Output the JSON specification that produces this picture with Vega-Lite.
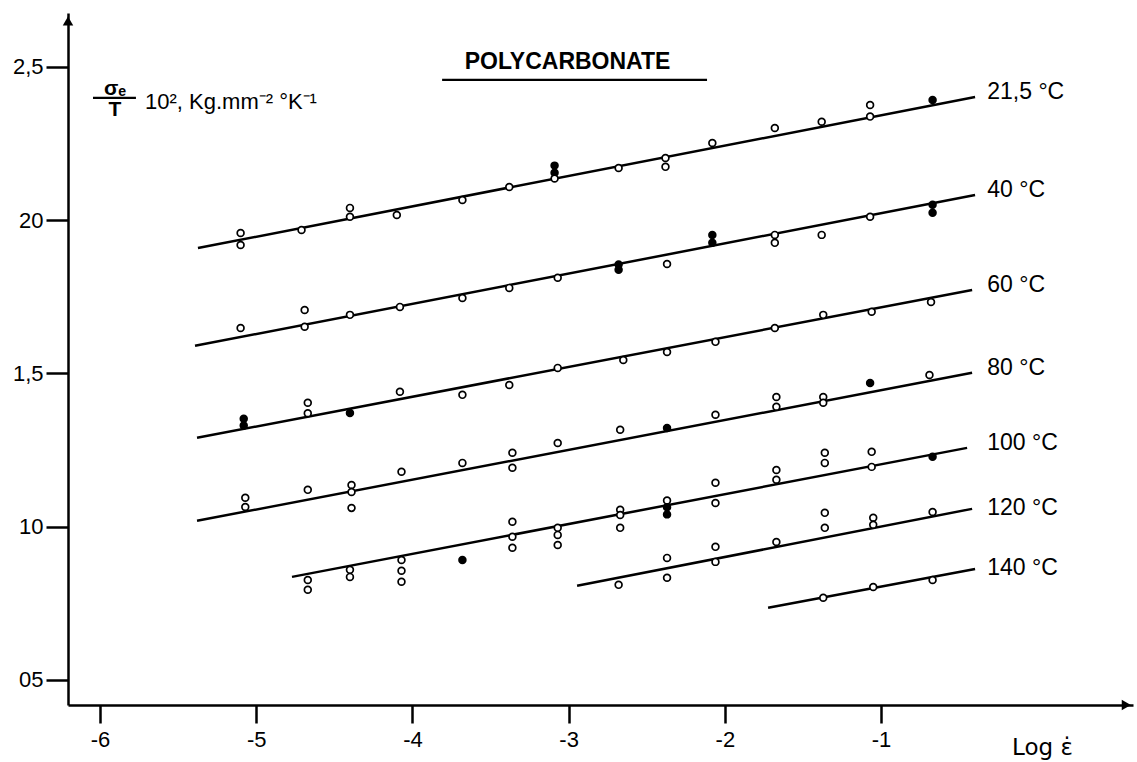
{
  "$schema": "https://vega.github.io/schema/vega-lite/v6.json",
  "width": 1065,
  "height": 692,
  "autosize": {"type": "none"},
  "padding": {"left": 68, "top": 13, "right": 4, "bottom": 57},
  "background": "white",
  "config": {
    "view": {"stroke": null},
    "font": "Liberation Sans",
    "axis": {"grid": false, "domainColor": "black", "tickColor": "black", "labelColor": "black", "titleColor": "black"}
  },
  "datasets": {
    "lines": [
      {"s": "21,5", "x": -5.373, "y": 1.909}, {"s": "21,5", "x": -0.398, "y": 2.402},
      {"s": "40", "x": -5.392, "y": 1.590}, {"s": "40", "x": -0.398, "y": 2.082},
      {"s": "60", "x": -5.379, "y": 1.290}, {"s": "60", "x": -0.417, "y": 1.772},
      {"s": "80", "x": -5.379, "y": 1.019}, {"s": "80", "x": -0.417, "y": 1.502},
      {"s": "100", "x": -4.771, "y": 0.836}, {"s": "100", "x": -0.449, "y": 1.257},
      {"s": "120", "x": -2.946, "y": 0.807}, {"s": "120", "x": -0.417, "y": 1.058},
      {"s": "140", "x": -1.723, "y": 0.735}, {"s": "140", "x": -0.398, "y": 0.862}
    ],
    "points": [
      {"s": "21,5", "x": -5.10, "y": 1.958, "k": "open"}, {"s": "21,5", "x": -5.10, "y": 1.919, "k": "open"},
      {"s": "21,5", "x": -4.71, "y": 1.968, "k": "open"}, {"s": "21,5", "x": -4.40, "y": 2.040, "k": "open"},
      {"s": "21,5", "x": -4.40, "y": 2.011, "k": "open"}, {"s": "21,5", "x": -4.10, "y": 2.017, "k": "open"},
      {"s": "21,5", "x": -3.68, "y": 2.066, "k": "open"}, {"s": "21,5", "x": -3.38, "y": 2.108, "k": "open"},
      {"s": "21,5", "x": -3.09, "y": 2.178, "k": "filled"}, {"s": "21,5", "x": -3.09, "y": 2.155, "k": "filled"},
      {"s": "21,5", "x": -3.09, "y": 2.136, "k": "open"}, {"s": "21,5", "x": -2.68, "y": 2.170, "k": "open"},
      {"s": "21,5", "x": -2.38, "y": 2.203, "k": "open"}, {"s": "21,5", "x": -2.38, "y": 2.174, "k": "open"},
      {"s": "21,5", "x": -2.08, "y": 2.252, "k": "open"}, {"s": "21,5", "x": -1.68, "y": 2.301, "k": "open"},
      {"s": "21,5", "x": -1.38, "y": 2.321, "k": "open"}, {"s": "21,5", "x": -1.07, "y": 2.376, "k": "open"},
      {"s": "21,5", "x": -1.07, "y": 2.338, "k": "open"}, {"s": "21,5", "x": -0.67, "y": 2.392, "k": "filled"},
      {"s": "40", "x": -5.10, "y": 1.648, "k": "open"}, {"s": "40", "x": -4.69, "y": 1.707, "k": "open"},
      {"s": "40", "x": -4.69, "y": 1.652, "k": "open"}, {"s": "40", "x": -4.40, "y": 1.691, "k": "open"},
      {"s": "40", "x": -4.08, "y": 1.717, "k": "open"}, {"s": "40", "x": -3.68, "y": 1.746, "k": "open"},
      {"s": "40", "x": -3.38, "y": 1.779, "k": "open"}, {"s": "40", "x": -3.07, "y": 1.812, "k": "open"},
      {"s": "40", "x": -2.68, "y": 1.855, "k": "filled"}, {"s": "40", "x": -2.68, "y": 1.838, "k": "filled"},
      {"s": "40", "x": -2.37, "y": 1.857, "k": "open"}, {"s": "40", "x": -2.08, "y": 1.952, "k": "filled"},
      {"s": "40", "x": -2.08, "y": 1.926, "k": "filled"}, {"s": "40", "x": -1.68, "y": 1.952, "k": "open"},
      {"s": "40", "x": -1.68, "y": 1.926, "k": "open"}, {"s": "40", "x": -1.38, "y": 1.952, "k": "open"},
      {"s": "40", "x": -1.07, "y": 2.011, "k": "open"}, {"s": "40", "x": -0.67, "y": 2.050, "k": "filled"},
      {"s": "40", "x": -0.67, "y": 2.024, "k": "filled"},
      {"s": "60", "x": -5.08, "y": 1.352, "k": "filled"}, {"s": "60", "x": -5.08, "y": 1.330, "k": "filled"},
      {"s": "60", "x": -4.67, "y": 1.404, "k": "open"}, {"s": "60", "x": -4.67, "y": 1.370, "k": "open"},
      {"s": "60", "x": -4.40, "y": 1.371, "k": "filled"}, {"s": "60", "x": -4.08, "y": 1.440, "k": "open"},
      {"s": "60", "x": -3.68, "y": 1.430, "k": "open"}, {"s": "60", "x": -3.38, "y": 1.462, "k": "open"},
      {"s": "60", "x": -3.07, "y": 1.518, "k": "open"}, {"s": "60", "x": -2.65, "y": 1.544, "k": "open"},
      {"s": "60", "x": -2.37, "y": 1.570, "k": "open"}, {"s": "60", "x": -2.06, "y": 1.603, "k": "open"},
      {"s": "60", "x": -1.68, "y": 1.648, "k": "open"}, {"s": "60", "x": -1.37, "y": 1.691, "k": "open"},
      {"s": "60", "x": -1.06, "y": 1.701, "k": "open"}, {"s": "60", "x": -0.68, "y": 1.733, "k": "open"},
      {"s": "80", "x": -5.07, "y": 1.094, "k": "open"}, {"s": "80", "x": -5.07, "y": 1.064, "k": "open"},
      {"s": "80", "x": -4.67, "y": 1.120, "k": "open"}, {"s": "80", "x": -4.39, "y": 1.136, "k": "open"},
      {"s": "80", "x": -4.39, "y": 1.113, "k": "open"}, {"s": "80", "x": -4.39, "y": 1.061, "k": "open"},
      {"s": "80", "x": -4.07, "y": 1.179, "k": "open"}, {"s": "80", "x": -3.68, "y": 1.208, "k": "open"},
      {"s": "80", "x": -3.36, "y": 1.241, "k": "open"}, {"s": "80", "x": -3.36, "y": 1.192, "k": "open"},
      {"s": "80", "x": -3.07, "y": 1.273, "k": "open"}, {"s": "80", "x": -2.67, "y": 1.316, "k": "open"},
      {"s": "80", "x": -2.37, "y": 1.322, "k": "filled"}, {"s": "80", "x": -2.06, "y": 1.365, "k": "open"},
      {"s": "80", "x": -1.67, "y": 1.423, "k": "open"}, {"s": "80", "x": -1.67, "y": 1.391, "k": "open"},
      {"s": "80", "x": -1.37, "y": 1.423, "k": "open"}, {"s": "80", "x": -1.37, "y": 1.404, "k": "open"},
      {"s": "80", "x": -1.07, "y": 1.469, "k": "filled"}, {"s": "80", "x": -0.69, "y": 1.495, "k": "open"},
      {"s": "100", "x": -4.67, "y": 0.826, "k": "open"}, {"s": "100", "x": -4.67, "y": 0.794, "k": "open"},
      {"s": "100", "x": -4.40, "y": 0.859, "k": "open"}, {"s": "100", "x": -4.40, "y": 0.836, "k": "open"},
      {"s": "100", "x": -4.07, "y": 0.891, "k": "open"}, {"s": "100", "x": -4.07, "y": 0.856, "k": "open"},
      {"s": "100", "x": -4.07, "y": 0.820, "k": "open"}, {"s": "100", "x": -3.68, "y": 0.891, "k": "filled"},
      {"s": "100", "x": -3.36, "y": 1.016, "k": "open"}, {"s": "100", "x": -3.36, "y": 0.967, "k": "open"},
      {"s": "100", "x": -3.36, "y": 0.931, "k": "open"}, {"s": "100", "x": -3.07, "y": 0.996, "k": "open"},
      {"s": "100", "x": -3.07, "y": 0.973, "k": "open"}, {"s": "100", "x": -3.07, "y": 0.940, "k": "open"},
      {"s": "100", "x": -2.67, "y": 1.055, "k": "open"}, {"s": "100", "x": -2.67, "y": 1.038, "k": "open"},
      {"s": "100", "x": -2.67, "y": 0.996, "k": "open"}, {"s": "100", "x": -2.37, "y": 1.085, "k": "open"},
      {"s": "100", "x": -2.37, "y": 1.063, "k": "filled"}, {"s": "100", "x": -2.37, "y": 1.040, "k": "filled"},
      {"s": "100", "x": -2.06, "y": 1.143, "k": "open"}, {"s": "100", "x": -2.06, "y": 1.077, "k": "open"},
      {"s": "100", "x": -1.67, "y": 1.185, "k": "open"}, {"s": "100", "x": -1.67, "y": 1.153, "k": "open"},
      {"s": "100", "x": -1.36, "y": 1.241, "k": "open"}, {"s": "100", "x": -1.36, "y": 1.208, "k": "open"},
      {"s": "100", "x": -1.06, "y": 1.244, "k": "open"}, {"s": "100", "x": -1.06, "y": 1.195, "k": "open"},
      {"s": "100", "x": -0.67, "y": 1.228, "k": "filled"},
      {"s": "120", "x": -2.68, "y": 0.810, "k": "open"}, {"s": "120", "x": -2.37, "y": 0.898, "k": "open"},
      {"s": "120", "x": -2.37, "y": 0.833, "k": "open"}, {"s": "120", "x": -2.06, "y": 0.934, "k": "open"},
      {"s": "120", "x": -2.06, "y": 0.885, "k": "open"}, {"s": "120", "x": -1.67, "y": 0.950, "k": "open"},
      {"s": "120", "x": -1.36, "y": 1.045, "k": "open"}, {"s": "120", "x": -1.36, "y": 0.996, "k": "open"},
      {"s": "120", "x": -1.05, "y": 1.029, "k": "open"}, {"s": "120", "x": -1.05, "y": 1.006, "k": "open"},
      {"s": "120", "x": -0.67, "y": 1.048, "k": "open"},
      {"s": "140", "x": -1.37, "y": 0.768, "k": "open"}, {"s": "140", "x": -1.05, "y": 0.803, "k": "open"},
      {"s": "140", "x": -0.67, "y": 0.826, "k": "open"}
    ],
    "labels": [
      {"x": -0.32, "y": 2.418, "t": "21,5 °C"},
      {"x": -0.32, "y": 2.099, "t": "40 °C"},
      {"x": -0.32, "y": 1.789, "t": "60 °C"},
      {"x": -0.32, "y": 1.518, "t": "80 °C"},
      {"x": -0.32, "y": 1.273, "t": "100 °C"},
      {"x": -0.32, "y": 1.061, "t": "120 °C"},
      {"x": -0.32, "y": 0.865, "t": "140 °C"}
    ],
    "title": [{"x": -3.007, "y": 2.516, "t": "POLYCARBONATE"}],
    "rules": [
      {"x": -3.81, "x2": -2.114, "y": 2.458},
      {"x": -6.045, "x2": -5.77, "y": 2.399}
    ],
    "frac": [
      {"x": -5.904, "y": 2.428, "t": "σₑ"},
      {"x": -5.904, "y": 2.360, "t": "T"}
    ],
    "unit": [{"x": -5.712, "y": 2.386, "t": "10², Kg.mm⁻² °K⁻¹"}],
    "arrows": [
      {"x": -6.205, "y": 2.650, "sh": "triangle-up"},
      {"x": 0.57, "y": 0.418, "sh": "triangle-right"}
    ]
  },
  "encoding": {
    "x": {
      "field": "x", "type": "quantitative",
      "scale": {"domain": [-6.205, 0.613], "nice": false, "zero": false},
      "axis": {
        "values": [-6, -5, -4, -3, -2, -1],
        "labelExpr": "'-' + abs(datum.value)",
        "tickSize": 18, "tickWidth": 2.5, "domainWidth": 2.5,
        "labelFontSize": 22, "labelPadding": 6, "labelFlush": false,
        "title": "Log ε̇", "titleX": 974, "titleY": 42,
        "titleAlign": "center", "titleBaseline": "middle",
        "titleFont": "DejaVu Sans",
        "titleFontSize": 23, "titleFontWeight": "normal"
      }
    },
    "y": {
      "field": "y", "type": "quantitative",
      "scale": {"domain": [0.418, 2.676], "nice": false, "zero": false},
      "axis": {
        "values": [0.5, 1, 1.5, 2, 2.5],
        "labelExpr": "datum.value == 2.5 ? '2,5' : datum.value == 2 ? '20' : datum.value == 1.5 ? '1,5' : datum.value == 1 ? '10' : '05'",
        "tickSize": 22, "tickWidth": 2.5, "domainWidth": 2.5,
        "labelFontSize": 22, "labelPadding": 3, "title": null
      }
    }
  },
  "layer": [
    {
      "data": {"name": "lines"},
      "mark": {"type": "line", "color": "black", "strokeWidth": 2.5},
      "encoding": {"detail": {"field": "s", "type": "nominal"}}
    },
    {
      "data": {"name": "points"},
      "mark": {"type": "point", "shape": "circle", "filled": true, "stroke": "black", "strokeWidth": 1.7, "size": 46, "opacity": 1},
      "encoding": {
        "fill": {"field": "k", "type": "nominal", "scale": {"domain": ["open", "filled"], "range": ["white", "black"]}, "legend": null}
      }
    },
    {
      "data": {"name": "labels"},
      "mark": {"type": "text", "align": "left", "baseline": "middle", "fontSize": 23, "color": "black"},
      "encoding": {"text": {"field": "t", "type": "nominal"}}
    },
    {
      "data": {"name": "title"},
      "mark": {"type": "text", "align": "center", "baseline": "middle", "fontSize": 23, "fontWeight": "bold", "color": "black"},
      "encoding": {"text": {"field": "t", "type": "nominal"}}
    },
    {
      "data": {"name": "rules"},
      "mark": {"type": "rule", "color": "black", "strokeWidth": 2.2},
      "encoding": {"x2": {"field": "x2"}}
    },
    {
      "data": {"name": "frac"},
      "mark": {"type": "text", "align": "center", "baseline": "middle", "fontSize": 21, "fontWeight": "bold", "color": "black"},
      "encoding": {"text": {"field": "t", "type": "nominal"}}
    },
    {
      "data": {"name": "unit"},
      "mark": {"type": "text", "align": "left", "baseline": "middle", "fontSize": 22, "color": "black"},
      "encoding": {"text": {"field": "t", "type": "nominal"}}
    },
    {
      "data": {"name": "arrows"},
      "mark": {"type": "point", "filled": true, "color": "black", "size": 110, "opacity": 1},
      "encoding": {"shape": {"field": "sh", "type": "nominal", "scale": null}}
    }
  ]
}
